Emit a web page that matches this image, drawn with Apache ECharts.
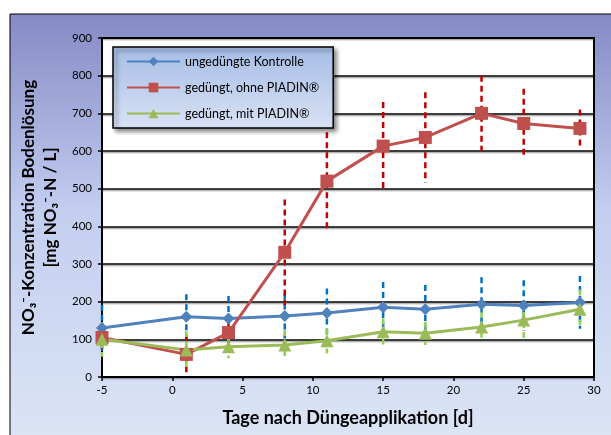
<!DOCTYPE html>
<html>
<head>
<meta charset="utf-8">
<script src="https://cdn.jsdelivr.net/npm/echarts@6/dist/echarts.min.js"></script>
<style>
  html, body { margin: 0; padding: 0; background: #fff; }
  #chart { width: 611px; height: 435px; }
</style>
</head>
<body>
<div id="chart"></div>
<script>
// Tage nach Düngeapplikation
var days = [-5, 1, 4, 8, 11, 15, 18, 22, 25, 29];

// ungedüngte Kontrolle
var kontrolle    = [130, 160, 155, 162, 170, 185, 180, 193, 190, 198];
var kontrolleErr = [62, 60, 60, 60, 65, 67, 64, 72, 67, 70];
// gedüngt, ohne PIADIN
var ohnePiadin    = [105, 60, 118, 331, 520, 613, 636, 700, 673, 660];
var ohnePiadinErr = [40, 48, 30, 140, 130, 117, 120, 100, 92, 50];
// gedüngt, mit PIADIN
var mitPiadin    = [100, 72, 80, 85, 96, 120, 116, 133, 151, 180];
var mitPiadinErr = [46, 50, 30, 40, 33, 35, 31, 40, 48, 52];

var seriesNames = ['ungedüngte Kontrolle', 'gedüngt, ohne PIADIN®', 'gedüngt, mit PIADIN®'];

var FONT = 'Lato, "Open Sans", sans-serif';

function pairs(vals) {
	return days.map(function (d, i) { return [d, vals[i]]; });
}
function errData(vals, errs) {
	return days.map(function (d, i) { return [d, vals[i], errs[i]]; });
}
// gestrichelte Fehlerbalken
function errSeries(vals, errs, color) {
	return {
		type: 'custom',
		z: 1,
		silent: true,
		data: errData(vals, errs),
		renderItem: function (params, api) {
			var x = api.value(0), v = api.value(1), e = api.value(2);
			var p1 = api.coord([x, v + e]);
			var p2 = api.coord([x, v - e]);
			return {
				type: 'line',
				shape: { x1: p1[0], y1: p1[1], x2: p2[0], y2: p2[1] },
				style: { stroke: color, lineWidth: 2.5, lineDash: [6, 4] }
			};
		}
	};
}
function lineSeries(name, vals, color, symbol, size) {
	return {
		name: name,
		type: 'line',
		z: 3,
		data: pairs(vals),
		symbol: symbol,
		symbolSize: size,
		lineStyle: { color: color, width: 3 },
		itemStyle: { color: color },
		emphasis: { disabled: true }
	};
}

var myChart = echarts.init(document.getElementById('chart'));
myChart.setOption({
	animation: false,
	textStyle: { fontFamily: FONT },
	graphic: [{
		type: 'rect',
		z: -10,
		shape: { x: 10, y: 14, width: 620, height: 440 },
		style: {
			fill: new echarts.graphic.LinearGradient(0, 0, 0, 1, [
				{ offset: 0, color: '#858ac5' },
				{ offset: 0.45, color: '#c3cef0' },
				{ offset: 1, color: '#dde6f5' }
			]),
			stroke: '#000',
			lineWidth: 1
		}
	}],
	grid: {
		left: 102,
		right: 17,
		top: 38,
		bottom: 58,
		show: true,
		backgroundColor: '#fff',
		borderColor: '#000',
		borderWidth: 2
	},
	legend: {
		left: 113,
		top: 47,
		orient: 'vertical',
		data: seriesNames,
		itemWidth: 53,
		itemHeight: 12,
		itemGap: 13,
		padding: [8, 14, 8, 13],
		backgroundColor: new echarts.graphic.LinearGradient(0, 0, 0, 1, [
			{ offset: 0, color: '#a6bde6' },
			{ offset: 1, color: '#d8e2f4' }
		]),
		borderColor: '#000',
		borderWidth: 1.5,
		shadowColor: 'rgba(0,0,0,0.45)',
		shadowBlur: 4,
		shadowOffsetX: 3,
		shadowOffsetY: 3,
		textStyle: { fontSize: 12.5, color: '#000', fontFamily: FONT }
	},
	xAxis: {
		type: 'value',
		min: -5,
		max: 30,
		interval: 5,
		name: 'Tage nach Düngeapplikation [d]',
		nameLocation: 'middle',
		nameGap: 32,
		nameTextStyle: { fontSize: 18, fontWeight: 'bold', color: '#000', fontFamily: FONT },
		axisLine: { show: true, onZero: false, lineStyle: { color: '#000', width: 2 } },
		axisTick: { show: true, length: 4, lineStyle: { color: '#000', width: 1.5 } },
		axisLabel: { fontSize: 11.5, color: '#000', margin: 7 },
		splitLine: { show: false }
	},
	yAxis: {
		type: 'value',
		min: 0,
		max: 900,
		interval: 100,
		name: 'NO₃⁻-Konzentration Bodenlösung\n[mg NO₃⁻-N / L]',
		nameLocation: 'middle',
		nameRotate: 90,
		nameGap: 38,
		nameTextStyle: { fontSize: 17, fontWeight: 'bold', color: '#000', lineHeight: 22, fontFamily: FONT },
		axisLine: { show: true, onZero: false, lineStyle: { color: '#000', width: 2 } },
		axisTick: { show: true, length: 4, lineStyle: { color: '#000', width: 1.5 } },
		axisLabel: { fontSize: 11.5, color: '#000', margin: 10 },
		splitLine: { show: true, lineStyle: { color: '#000', width: 1.5, shadowColor: 'rgba(0,0,0,0.35)', shadowOffsetY: 1.5, shadowBlur: 1 } }
	},
	series: [
		errSeries(kontrolle, kontrolleErr, '#0070c0'),
		errSeries(ohnePiadin, ohnePiadinErr, '#c00000'),
		errSeries(mitPiadin, mitPiadinErr, '#92d050'),
		lineSeries(seriesNames[0], kontrolle, '#4f81bd', 'diamond', 12),
		lineSeries(seriesNames[1], ohnePiadin, '#c0504d', 'rect', 13),
		lineSeries(seriesNames[2], mitPiadin, '#9bbb59', 'triangle', 13)
	]
});
</script>
</body>
</html>
